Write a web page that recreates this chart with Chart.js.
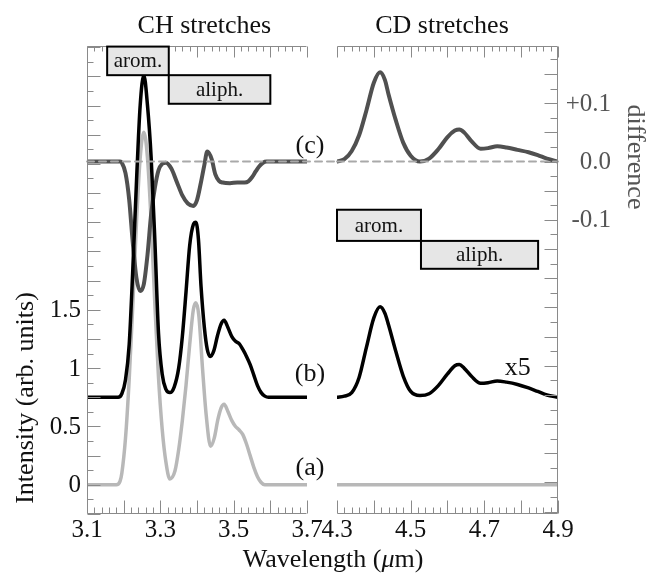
<!DOCTYPE html>
<html>
<head>
<meta charset="utf-8">
<script src="https://cdn.jsdelivr.net/npm/chart.js@4.4.1/dist/chart.umd.min.js"></script>
<style>
    html, body { margin: 0; padding: 0; background: #fff; }
    #wrap { position: relative; width: 646px; height: 576px; }
    #wrap canvas { position: absolute; left: 0; top: 0; }
</style>
</head>
<body>
<div id="wrap">
    <canvas id="ch-chart" width="646" height="576"></canvas>
    <canvas id="cd-chart" width="646" height="576"></canvas>
</div>
<script>
// ============================================
// CH / CD stretch spectra, (a) (b) and difference (c)
// ============================================

// --- CH stretches (left panel) ---
const chGrayX = [3.10, 3.18, 3.19, 3.195, 3.205, 3.215, 3.225, 3.235, 3.245, 3.255, 3.265, 3.275, 3.285, 3.295, 3.305, 3.315, 3.326,
    3.34, 3.35, 3.36, 3.37, 3.38, 3.39, 3.397, 3.405, 3.415, 3.425, 3.437, 3.447, 3.457, 3.466, 3.474, 3.484, 3.495, 3.505,
    3.515, 3.525, 3.535, 3.545, 3.555, 3.565, 3.575, 3.585, 3.60, 3.70];
const chGrayY = [0, 0, 0.03, 0.1, 0.4, 0.9, 1.55, 2.25, 2.8, 3.02, 2.8, 2.25, 1.55, 0.92, 0.48, 0.2, 0.05,
    0.12, 0.3, 0.55, 0.85, 1.2, 1.5, 1.56, 1.45, 1.0, 0.6, 0.33, 0.4, 0.56, 0.66, 0.69, 0.63, 0.55, 0.5,
    0.47, 0.43, 0.35, 0.25, 0.15, 0.07, 0.02, 0, 0, 0];

const chBlackX = [3.10, 3.185, 3.195, 3.205, 3.215, 3.225, 3.235, 3.245, 3.255, 3.265, 3.275, 3.285, 3.295, 3.305, 3.315, 3.326,
    3.338, 3.35, 3.36, 3.37, 3.38, 3.39, 3.397, 3.404, 3.411, 3.42, 3.428, 3.436, 3.446, 3.456, 3.466, 3.474, 3.484, 3.495,
    3.505, 3.515, 3.525, 3.535, 3.545, 3.555, 3.565, 3.575, 3.585, 3.595, 3.70];
const chBlackY = [0.75, 0.75, 0.78, 0.9, 1.2, 1.85, 2.6, 3.25, 3.51, 3.25, 2.8, 2.1, 1.3, 0.95, 0.82, 0.79,
    0.84, 1.0, 1.27, 1.65, 2.05, 2.23, 2.25, 2.1, 1.7, 1.35, 1.16, 1.1, 1.15, 1.28, 1.38, 1.41, 1.35, 1.27,
    1.23, 1.21, 1.16, 1.1, 1.03, 0.94, 0.85, 0.79, 0.76, 0.75, 0.75];

const chDiffX = [3.10, 3.19, 3.195, 3.205, 3.215, 3.225, 3.235, 3.245, 3.255, 3.265, 3.275, 3.285, 3.295, 3.305, 3.315,
    3.33, 3.345, 3.36, 3.375, 3.39, 3.40, 3.41, 3.42, 3.428, 3.44, 3.45, 3.46, 3.47, 3.49, 3.51, 3.53, 3.54, 3.55,
    3.56, 3.57, 3.58, 3.59, 3.70];
const chDiffY = [0, 0, -0.002, -0.02, -0.065, -0.14, -0.2, -0.222, -0.21, -0.16, -0.09, -0.045, -0.015, -0.004, -0.002,
    -0.012, -0.035, -0.058, -0.072, -0.076, -0.066, -0.038, -0.006, 0.017, 0.004, -0.022, -0.033, -0.036, -0.037, -0.036, -0.036, -0.034, -0.027,
    -0.017, -0.008, -0.002, 0, 0];

// --- CD stretches (right panel) ---
const cdX = [4.30, 4.32, 4.34, 4.36, 4.38, 4.40, 4.417, 4.43, 4.44, 4.46, 4.48, 4.50, 4.525, 4.55, 4.575, 4.60, 4.62,
    4.632, 4.645, 4.665, 4.69, 4.71, 4.735, 4.76, 4.79, 4.82, 4.845, 4.87, 4.90];
const cdBlackY = [0.75, 0.76, 0.79, 0.92, 1.18, 1.43, 1.525, 1.47, 1.37, 1.14, 0.93, 0.8, 0.765, 0.78, 0.85, 0.95, 1.02,
    1.03, 1.0, 0.93, 0.87, 0.875, 0.89, 0.88, 0.86, 0.83, 0.8, 0.77, 0.75];
const cdDiffY = [0, 0.004, 0.018, 0.045, 0.088, 0.135, 0.153, 0.14, 0.115, 0.07, 0.032, 0.01, 0, 0.005, 0.021, 0.042, 0.053,
    0.055, 0.05, 0.035, 0.022, 0.023, 0.026, 0.024, 0.02, 0.016, 0.011, 0.005, 0];
const cdGrayX = [4.30, 4.90];
const cdGrayY = [0, 0];

// --- axis ticks ---
const chTickValues = [3.1, 3.3, 3.5, 3.7];
const chTickLabels = ['3.1', '3.3', '3.5', '3.7'];
const cdTickValues = [4.3, 4.5, 4.7, 4.9];
const cdTickLabels = ['4.3', '4.5', '4.7', '4.9'];
const intensityTickValues = [0, 0.5, 1, 1.5];
const intensityTickLabels = ['0', '0.5', '1', '1.5'];
const diffTickValues = [-0.1, 0, 0.1];
const diffTickLabels = ['-0.1', '0.0', '+0.1'];

// --- annotation boxes (wavelength ranges) ---
const chBoxes = [
    { label: 'arom.', x0: 3.155, x1: 3.323, y0: 3.51, y1: 3.755 },
    { label: 'aliph.', x0: 3.323, x1: 3.60, y0: 3.265, y1: 3.51 }
];
const cdBoxes = [
    { label: 'arom.', x0: 4.30, x1: 4.528, y0: 2.09, y1: 2.357 },
    { label: 'aliph.', x0: 4.528, x1: 4.846, y0: 1.851, y1: 2.09 }
];

// intensity axis and where the difference curve sits on it
const Y_MIN = -0.25, Y_MAX = 3.76;
const DIFF_ZERO = 2.77, DIFF_GAIN = 5;

const SERIF = '"Liberation Serif", "DejaVu Serif", serif';
const AXIS_COLOR = '#8a8a8a';
const GRAY_LINE = '#b8b8b8';
const DIFF_LINE = '#505050';
const SIDE_TEXT = '#555555';

function pts(xs, ys) {
    return xs.map((x, i) => ({ x: x, y: ys[i] }));
}

function seg(ctx, x0, y0, x1, y1) {
    ctx.beginPath();
    ctx.moveTo(x0, y0);
    ctx.lineTo(x1, y1);
    ctx.stroke();
}

/**
 * Frame, inward ticks, labels and boxes for one panel
 */
const framePlugin = {
    id: 'frame',
    afterDatasetsDraw(chart, args, o) {
        const ctx = chart.ctx;
        const a = chart.chartArea;
        const sx = chart.scales.x, sy = chart.scales.y, sy2 = chart.scales.y2;
        const L = Math.round(a.left) + 0.5, R = Math.round(a.right) - 0.5;
        const T = Math.round(a.top) + 0.5, B = Math.round(a.bottom) - 0.5;

        ctx.save();
        ctx.strokeStyle = AXIS_COLOR;
        ctx.lineWidth = 1;

        // spines
        seg(ctx, L, T, R, T);
        seg(ctx, L, B, R, B);
        if (o.side === 'left') seg(ctx, L, T, L, B);
        else seg(ctx, R, T, R, B);

        // x ticks, minor every 0.02
        for (let i = 0; i <= 30; i++) {
            const v = sx.min + i * 0.02;
            const px = Math.round(sx.getPixelForValue(v)) + 0.5;
            const major = i % 5 === 0;
            seg(ctx, px, B, px, B - (major ? 13 : 6));
            seg(ctx, px, T, px, T + (major ? 11 : 5));
        }

        if (o.side === 'left') {
            for (let k = -2; k <= 30; k++) {
                const py = Math.round(sy.getPixelForValue(k * 0.125)) + 0.5;
                if (py < a.top || py > a.bottom + 1) continue;
                seg(ctx, L, py, L + (k % 2 === 0 ? 13 : 6), py);
            }
        } else {
            for (let k = -24; k <= 7; k++) {
                const py = Math.round(sy2.getPixelForValue(k * 0.025)) + 0.5;
                if (py < a.top || py > a.bottom + 1) continue;
                seg(ctx, R, py, R - (k % 2 === 0 ? 13 : 7), py);
            }
        }

        // tick labels
        ctx.font = '25px ' + SERIF;
        ctx.fillStyle = '#111';
        ctx.textAlign = 'center';
        ctx.textBaseline = 'alphabetic';
        o.xValues.forEach((v, i) => ctx.fillText(o.xLabels[i], sx.getPixelForValue(v), a.bottom + 23));

        if (o.side === 'left') {
            ctx.textAlign = 'right';
            ctx.textBaseline = 'middle';
            intensityTickValues.forEach((v, i) =>
                ctx.fillText(intensityTickLabels[i], a.left - 6, sy.getPixelForValue(v) + 1));
        } else {
            ctx.fillStyle = SIDE_TEXT;
            ctx.textAlign = 'right';
            ctx.textBaseline = 'middle';
            diffTickValues.forEach((v, i) =>
                ctx.fillText(diffTickLabels[i], a.right + 53, sy2.getPixelForValue(v) + 1));
        }

        // annotation boxes
        o.boxes.forEach(b => {
            const x0 = sx.getPixelForValue(b.x0), x1 = sx.getPixelForValue(b.x1);
            const y0 = sy.getPixelForValue(b.y1), y1 = sy.getPixelForValue(b.y0);
            ctx.fillStyle = '#e6e6e6';
            ctx.fillRect(x0, y0, x1 - x0, y1 - y0);
            ctx.strokeStyle = '#000';
            ctx.lineWidth = 2;
            ctx.strokeRect(x0, y0, x1 - x0, y1 - y0);
            ctx.fillStyle = '#111';
            ctx.font = '21px ' + SERIF;
            ctx.textAlign = 'center';
            ctx.textBaseline = 'middle';
            ctx.fillText(b.label, (x0 + x1) / 2, (y0 + y1) / 2 + 1);
        });

        // panel title
        ctx.fillStyle = '#111';
        ctx.font = '26px ' + SERIF;
        ctx.textAlign = 'center';
        ctx.textBaseline = 'alphabetic';
        ctx.fillText(o.title, sx.getPixelForValue(o.titleX), 33);

        if (o.side === 'left') {
            // curve labels
            ctx.fillText('(c)', sx.getPixelForValue(3.708), sy.getPixelForValue(2.845));
            ctx.fillText('(b)', sx.getPixelForValue(3.708), sy.getPixelForValue(0.89));
            ctx.fillText('(a)', sx.getPixelForValue(3.708), sy.getPixelForValue(0.086));

            // y title
            ctx.save();
            ctx.translate(33, 398);
            ctx.rotate(-Math.PI / 2);
            ctx.fillText('Intensity (arb. units)', 0, 0);
            ctx.restore();

            // x title with italic mu
            const p1 = 'Wavelength (', p2 = '\u03bc', p3 = 'm)';
            ctx.font = '26px ' + SERIF;
            const w1 = ctx.measureText(p1).width, w3 = ctx.measureText(p3).width;
            ctx.font = 'italic 26px ' + SERIF;
            const w2 = ctx.measureText(p2).width;
            let xx = 333 - (w1 + w2 + w3) / 2;
            ctx.textAlign = 'left';
            ctx.font = '26px ' + SERIF;
            ctx.fillText(p1, xx, 567);
            ctx.font = 'italic 26px ' + SERIF;
            ctx.fillText(p2, xx + w1, 567);
            ctx.font = '26px ' + SERIF;
            ctx.fillText(p3, xx + w1 + w2, 567);
        } else {
            ctx.fillText('x5', sx.getPixelForValue(4.791), sy.getPixelForValue(0.943));

            ctx.save();
            ctx.fillStyle = SIDE_TEXT;
            ctx.translate(628, 157);
            ctx.rotate(Math.PI / 2);
            ctx.textBaseline = 'alphabetic';
            ctx.fillText('difference', 0, 0);
            ctx.restore();
        }
        ctx.restore();
    }
};

function makeChart(id, xMin, xMax, datasets, padding, frameOpts) {
    return new Chart(document.getElementById(id), {
        type: 'line',
        data: { datasets: datasets },
        options: {
            responsive: false,
            animation: false,
            devicePixelRatio: 1,
            layout: { padding: padding },
            elements: {
                point: { radius: 0 },
                line: { cubicInterpolationMode: 'monotone', borderCapStyle: 'round', borderJoinStyle: 'round' }
            },
            plugins: {
                legend: { display: false },
                tooltip: { enabled: false },
                frame: frameOpts
            },
            scales: {
                x: { type: 'linear', min: xMin, max: xMax, display: false },
                y: { type: 'linear', min: Y_MIN, max: Y_MAX, display: false },
                y2: {
                    type: 'linear',
                    min: (Y_MIN - DIFF_ZERO) / DIFF_GAIN,
                    max: (Y_MAX - DIFF_ZERO) / DIFF_GAIN,
                    display: false
                }
            }
        },
        plugins: [framePlugin]
    });
}

function zeroLine(xs) {
    return {
        data: pts(xs, xs.map(() => 0)),
        yAxisID: 'y2',
        borderColor: '#a9a9a9',
        borderWidth: 2,
        borderDash: [7, 5],
        clip: false,
        order: 1
    };
}

makeChart('ch-chart', 3.1, 3.7, [
    zeroLine([3.1, 3.782]),
    { data: pts(chBlackX, chBlackY), yAxisID: 'y', borderColor: '#000', borderWidth: 3.5, order: 2 },
    { data: pts(chDiffX, chDiffY), yAxisID: 'y2', borderColor: DIFF_LINE, borderWidth: 4, order: 3 },
    { data: pts(chGrayX, chGrayY), yAxisID: 'y', borderColor: GRAY_LINE, borderWidth: 3.5, order: 4 }
], { left: 87, right: 339, top: 46, bottom: 62 },
{ side: 'left', xValues: chTickValues, xLabels: chTickLabels, boxes: chBoxes, title: 'CH stretches', titleX: 3.42 });

makeChart('cd-chart', 4.3, 4.9, [
    zeroLine([4.3, 4.9]),
    { data: pts(cdX, cdBlackY), yAxisID: 'y', borderColor: '#000', borderWidth: 3.5, order: 2 },
    { data: pts(cdX, cdDiffY), yAxisID: 'y2', borderColor: DIFF_LINE, borderWidth: 4, order: 3 },
    { data: pts(cdGrayX, cdGrayY), yAxisID: 'y', borderColor: GRAY_LINE, borderWidth: 3.5, order: 4 }
], { left: 337, right: 88, top: 46, bottom: 62 },
{ side: 'right', xValues: cdTickValues, xLabels: cdTickLabels, boxes: cdBoxes, title: 'CD stretches', titleX: 4.585 });
</script>
</body>
</html>
